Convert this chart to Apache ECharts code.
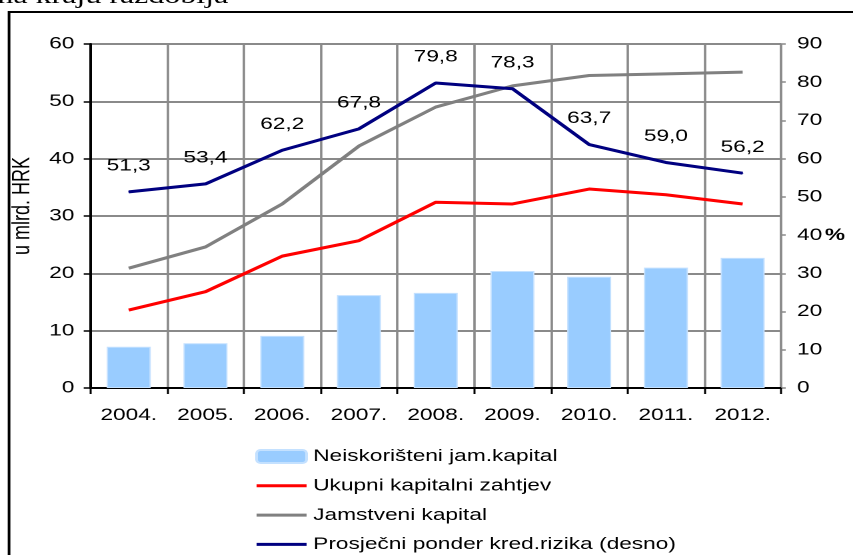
<!DOCTYPE html>
<html>
<head>
<meta charset="utf-8">
<script src="https://cdn.jsdelivr.net/npm/echarts@6/dist/echarts.min.js"></script>
<style>
  html, body { margin: 0; padding: 0; background: #fff; overflow: hidden; }
  /* The chart is laid out on a 640px-wide canvas and widened to 853px */
  #chart { width: 640px; height: 555px; transform: scaleX(1.33281); transform-origin: 0 0; }
</style>
</head>
<body>
<div id="chart"></div>
<script>
// Years on the category axis
const years = ['2004.', '2005.', '2006.', '2007.', '2008.', '2009.', '2010.', '2011.', '2012.'];

// Amounts in billions of HRK (left axis)
const neiskoristeni = [7.2, 7.8, 9.1, 16.2, 16.6, 20.4, 19.4, 21.0, 22.7];
const ukupniZahtjev = [13.6, 16.8, 23.0, 25.7, 32.4, 32.1, 34.7, 33.7, 32.1];
const jamstveniKapital = [20.9, 24.6, 32.1, 42.2, 49.0, 52.7, 54.5, 54.8, 55.1];

// Average credit risk weight in % (right axis)
const ponderRizika = [51.3, 53.4, 62.2, 67.8, 79.8, 78.3, 63.7, 59.0, 56.2];

// Series names shown in the legend
const seriesNames = [
  'Neiskorišteni jam.kapital',
  'Ukupni kapitalni zahtjev',
  'Jamstveni kapital',
  'Prosječni ponder kred.rizika (desno)'
];

const FONT = 'Liberation Sans, Arial, sans-serif';
const GRID_GRAY = '#8a8a8a';

const chart = echarts.init(document.getElementById('chart'), null, {
  renderer: 'canvas',
  devicePixelRatio: 2
});

// Legend entries for the line series: plain thick line, no marker
const lineLegendItem = name => ({
  name: name,
  itemStyle: { opacity: 0 },
  lineStyle: { width: 3 }
});

chart.setOption({
  animation: false,
  backgroundColor: '#ffffff',
  textStyle: { fontFamily: FONT, color: '#000' },
  graphic: [
    {
      type: 'rect',
      shape: { x: 6.8, y: 12, width: 700, height: 600 },
      style: { fill: 'none', stroke: '#000', lineWidth: 2 },
      silent: true
    },
    {
      type: 'text',
      x: -2,
      y: -3.5,
      style: {
        text: 'na kraju razdoblja',
        font: '24px "Liberation Serif", "Times New Roman", serif',
        fill: '#000',
        verticalAlign: 'middle'
      },
      silent: true
    }
  ],
  grid: { left: 66.8, right: 54, top: 44, bottom: 167, containLabel: false },
  legend: {
    orient: 'vertical',
    left: 191,
    top: 448,
    height: 120,
    padding: 0,
    itemWidth: 37.5,
    itemHeight: 13,
    itemGap: 12.3,
    textStyle: { fontFamily: FONT, fontSize: 17, color: '#000' },
    data: [
      seriesNames[0],
      lineLegendItem(seriesNames[1]),
      lineLegendItem(seriesNames[2]),
      lineLegendItem(seriesNames[3])
    ]
  },
  xAxis: {
    type: 'category',
    data: years,
    boundaryGap: true,
    axisLine: { show: true, lineStyle: { color: '#000', width: 2 } },
    axisTick: { show: true, length: 6, lineStyle: { color: '#000', width: 1.5 } },
    axisLabel: { fontFamily: FONT, fontSize: 17, color: '#000', margin: 19 },
    splitLine: { show: true, lineStyle: { color: GRID_GRAY, width: 1.8 } }
  },
  yAxis: [
    {
      type: 'value',
      min: 0,
      max: 60,
      interval: 10,
      name: 'u mlrd. HRK',
      nameLocation: 'middle',
      nameRotate: 90,
      nameGap: 32,
      nameTextStyle: { fontFamily: FONT, fontSize: 18, color: '#000', padding: [0, 0, 0, 20] },
      axisLine: { show: true, lineStyle: { color: '#000', width: 2 } },
      axisTick: { show: true, length: 5, lineStyle: { color: '#000', width: 1.5 } },
      axisLabel: { fontFamily: FONT, fontSize: 17, color: '#000', margin: 12 },
      splitLine: { show: true, lineStyle: { color: GRID_GRAY, width: 2 } }
    },
    {
      type: 'value',
      min: 0,
      max: 90,
      interval: 10,
      position: 'right',
      axisLine: { show: true, lineStyle: { color: GRID_GRAY, width: 1.5 } },
      axisTick: { show: true, length: 3.5, lineStyle: { color: GRID_GRAY, width: 1.5 } },
      axisLabel: {
        fontFamily: FONT,
        fontSize: 17,
        color: '#000',
        margin: 12,
        formatter: function (v) { return v === 40 ? '40{p|%}' : String(v); },
        rich: { p: { fontFamily: FONT, fontSize: 17, fontWeight: 'bold', color: '#000', padding: [0, 0, 0, 2] } }
      },
      splitLine: { show: false }
    }
  ],
  series: [
    {
      name: seriesNames[0],
      type: 'bar',
      yAxisIndex: 0,
      data: neiskoristeni,
      barWidth: 33,
      itemStyle: { color: '#99ccff', borderColor: '#c4e1ff', borderWidth: 1 },
      z: 2
    },
    {
      name: seriesNames[1],
      type: 'line',
      yAxisIndex: 0,
      data: ukupniZahtjev,
      symbol: 'none',
      lineStyle: { color: '#ff0000', width: 3 },
      itemStyle: { color: '#ff0000' },
      z: 3
    },
    {
      name: seriesNames[2],
      type: 'line',
      yAxisIndex: 0,
      data: jamstveniKapital,
      symbol: 'none',
      lineStyle: { color: '#808080', width: 3 },
      itemStyle: { color: '#808080' },
      z: 3
    },
    {
      name: seriesNames[3],
      type: 'line',
      yAxisIndex: 1,
      data: ponderRizika,
      symbol: 'circle',
      symbolSize: 1,
      showSymbol: true,
      lineStyle: { color: '#000080', width: 3 },
      itemStyle: { color: '#000080' },
      label: {
        show: true,
        position: 'top',
        distance: 17,
        fontFamily: FONT,
        fontSize: 17,
        color: '#000',
        formatter: function (p) { return p.value.toFixed(1).replace('.', ','); }
      },
      z: 4
    }
  ]
});
</script>
</body>
</html>
